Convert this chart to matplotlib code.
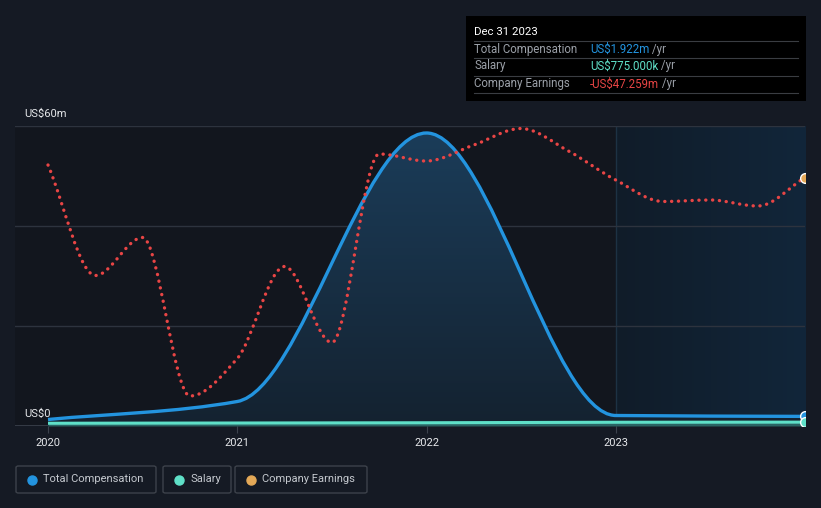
import matplotlib
matplotlib.use("Agg")
import matplotlib.pyplot as plt
import numpy as np
from matplotlib.patches import Rectangle, FancyBboxPatch, PathPatch
from matplotlib.lines import Line2D
from matplotlib.path import Path
from matplotlib.colors import LinearSegmentedColormap

plt.rcParams['font.family'] = ['Roboto', 'DejaVu Sans']

# ---- data (decimal years, US$ millions) ----
comp_years = [2020.0, 2021.0, 2022.0, 2023.0, 2024.0]
comp_values = [1.3, 4.9, 58.6, 2.1, 1.922]

salary_years = [2020.0, 2021.0, 2022.0, 2023.0, 2024.0]
salary_values = [0.55, 0.60, 0.65, 0.75, 0.775]

earn_years = [2020.00, 2020.25, 2020.50, 2020.75, 2021.00, 2021.25, 2021.50, 2021.75, 2022.00,
              2022.25, 2022.50, 2022.75, 2023.00, 2023.25, 2023.50, 2023.75, 2024.00]
earn_values = [52.2, 30.1, 37.7, 6.0, 13.5, 31.9, 16.7, 54.4, 53.0,
               56.2, 59.5, 55.0, 49.2, 44.9, 45.2, 44.0, 49.7]

xtick_years = [2020, 2021, 2022, 2023]
xtick_labels = ["2020", "2021", "2022", "2023"]
y_labels = ["US$0", "US$60m"]

legend_names = ["Total Compensation", "Salary", "Company Earnings"]
tooltip_title = "Dec 31 2023"
tooltip_rows = [("Total Compensation", "US$1.922m", " /yr"),
                ("Salary", "US$775.000k", " /yr"),
                ("Company Earnings", "-US$47.259m", " /yr")]

# ---- styling ----
BG = "#151a24"
AX_BG = "#12161e"
BLUE = "#2394df"
TEAL = "#5fe0c8"
RED = "#e84545"
ORANGE = "#e3a857"
W, H = 821, 508


def smooth_path(xs, ys, close_to=None):
    """Monotone cubic Hermite curve expressed as Bezier segments (drawn by matplotlib)."""
    x = np.asarray(xs, float)
    y = np.asarray(ys, float)
    h = np.diff(x)
    d = np.diff(y) / h
    n = len(x)
    m = np.zeros(n)
    m[0], m[-1] = d[0], d[-1]
    for i in range(1, n - 1):
        if d[i - 1] * d[i] <= 0:
            m[i] = 0
        else:
            w1 = 2 * h[i] + h[i - 1]
            w2 = h[i] + 2 * h[i - 1]
            m[i] = (w1 + w2) / (w1 / d[i - 1] + w2 / d[i])
    verts = [(x[0], y[0])]
    codes = [Path.MOVETO]
    for i in range(n - 1):
        verts += [(x[i] + h[i] / 3, y[i] + m[i] * h[i] / 3),
                  (x[i + 1] - h[i] / 3, y[i + 1] - m[i + 1] * h[i] / 3),
                  (x[i + 1], y[i + 1])]
        codes += [Path.CURVE4] * 3
    if close_to is not None:
        verts += [(x[-1], close_to), (x[0], close_to), (x[0], y[0])]
        codes += [Path.LINETO, Path.LINETO, Path.CLOSEPOLY]
    return Path(verts, codes)


fig = plt.figure(figsize=(W / 100, H / 100), dpi=100, facecolor=BG)
ax = fig.add_axes([15 / W, (H - 426) / H, 790 / W, 300 / H])
ax.set_facecolor(AX_BG)
x0 = 2020 - 33 / 189.25
ax.set_xlim(x0, 2024.0)
ax.set_ylim(0, 60)

# right-hand shaded region (2023 onwards) with horizontal gradient
grad = np.linspace(0, 1, 256).reshape(1, -1)
cm_r = LinearSegmentedColormap.from_list("r", ["#101c29", "#12263a"])
ax.imshow(grad, extent=[2023.0, 2024.0, 0, 60], aspect='auto', cmap=cm_r, zorder=0.5)
ax.axvline(2023.0, color="#1d3244", lw=1, zorder=0.6)

# gridlines
for gy in [20, 40, 60]:
    ax.axhline(gy, color="#2d333e", lw=1, zorder=1)
ax.axhline(0, color="#3c424d", lw=1.2, zorder=1)

# compensation fill with vertical gradient
cm_b = LinearSegmentedColormap.from_list("b", ["#142230", "#1b3d5a"])
vgrad = np.linspace(0, 1, 256).reshape(-1, 1)
im = ax.imshow(vgrad, extent=[2020, 2024, 0, 60], origin='lower', aspect='auto',
               cmap=cm_b, zorder=2)
clip = PathPatch(smooth_path(comp_years, comp_values, close_to=0), transform=ax.transData,
                 facecolor='none', edgecolor='none')
ax.add_patch(clip)
im.set_clip_path(clip)

# salary fill + line
ax.fill_between(salary_years, salary_values, 0, color="#3a8f86", alpha=0.6, lw=0, zorder=3)
ax.plot(salary_years, salary_values, color=TEAL, lw=2.2, zorder=4, solid_capstyle='butt')

# compensation line
ax.add_patch(PathPatch(smooth_path(comp_years, comp_values), facecolor='none', edgecolor=BLUE,
                       lw=2.4, zorder=5, capstyle='butt', joinstyle='round'))

# earnings dotted line
ax.add_patch(PathPatch(smooth_path(earn_years, earn_values), facecolor='none', edgecolor=RED,
                       lw=2.4, zorder=6, linestyle=(0, (0.05, 2.0)), capstyle='round'))

# end markers
ax.plot([comp_years[-1]], [comp_values[-1]], 'o', ms=7, mfc=BLUE, mec="white", mew=1, zorder=7)
ax.plot([salary_years[-1]], [salary_values[-1]], 'o', ms=7, mfc=TEAL, mec="white", mew=1, zorder=7)
ax.plot([earn_years[-1]], [earn_values[-1]], 'o', ms=7, mfc=ORANGE, mec="white", mew=1, zorder=7)

for s in ax.spines.values():
    s.set_visible(False)
ax.set_yticks([])
ax.set_xticks(xtick_years)
ax.set_xticklabels(xtick_labels, color="#e6e8eb", fontsize=8)
ax.tick_params(axis='x', length=5, color="#3c424d", pad=4)

# y labels
fig.text(24 / W, 1 - 114 / H, y_labels[1], color="#e6e8eb", fontsize=8, va='center', ha='left')
fig.text(24 / W, 1 - 414 / H, y_labels[0], color="#e6e8eb", fontsize=8, va='center', ha='left')

# tooltip box
fig.patches.append(Rectangle((466 / W, 1 - 101 / H), 340 / W, 85 / H, transform=fig.transFigure,
                             facecolor="#000000", edgecolor="none", zorder=10))
fig.text(474 / W, 1 - 32 / H, tooltip_title, color="white", fontsize=8.2, va='center', zorder=11)
row_y = [49, 66, 84]
val_colors = [BLUE, TEAL, RED]
fig.canvas.draw()
for (lab, val, unit), ry, vc in zip(tooltip_rows, row_y, val_colors):
    fig.text(474 / W, 1 - ry / H, lab, color="#9ba0a8", fontsize=8.3, va='center', zorder=11)
    t = fig.text(590 / W, 1 - ry / H, val, color=vc, fontsize=8.3, va='center', zorder=11)
    bb = t.get_window_extent(renderer=fig.canvas.get_renderer())
    fig.text(bb.x1 / W, 1 - ry / H, unit, color="#9ba0a8", fontsize=8.3, va='center', zorder=11)
for ly in [41, 58, 75.5, 93]:
    fig.lines.append(Line2D([474 / W, 798 / W], [1 - ly / H, 1 - ly / H], transform=fig.transFigure,
                            color="#3a3d42", lw=0.8, zorder=11))

# legend boxes
boxes = [(16, 156), (163, 231), (235, 367)]
dot_colors = [BLUE, TEAL, ORANGE]
for (bx0, bx1), name, dc in zip(boxes, legend_names, dot_colors):
    fig.patches.append(FancyBboxPatch((bx0 / W, 1 - 493 / H), (bx1 - bx0) / W, 27 / H,
                                      boxstyle="round,pad=0,rounding_size=0.003",
                                      transform=fig.transFigure, facecolor="none",
                                      edgecolor="#3d424b", lw=1))
    fig.lines.append(Line2D([(bx0 + 16) / W], [1 - 479.5 / H], marker='o', ms=6.5, color=dc,
                            transform=fig.transFigure, lw=0))
    fig.text((bx0 + 27) / W, 1 - 479.5 / H, name, color="#c4c8ce", fontsize=8, va='center')

fig.savefig("out.png", dpi=100, facecolor=BG)
